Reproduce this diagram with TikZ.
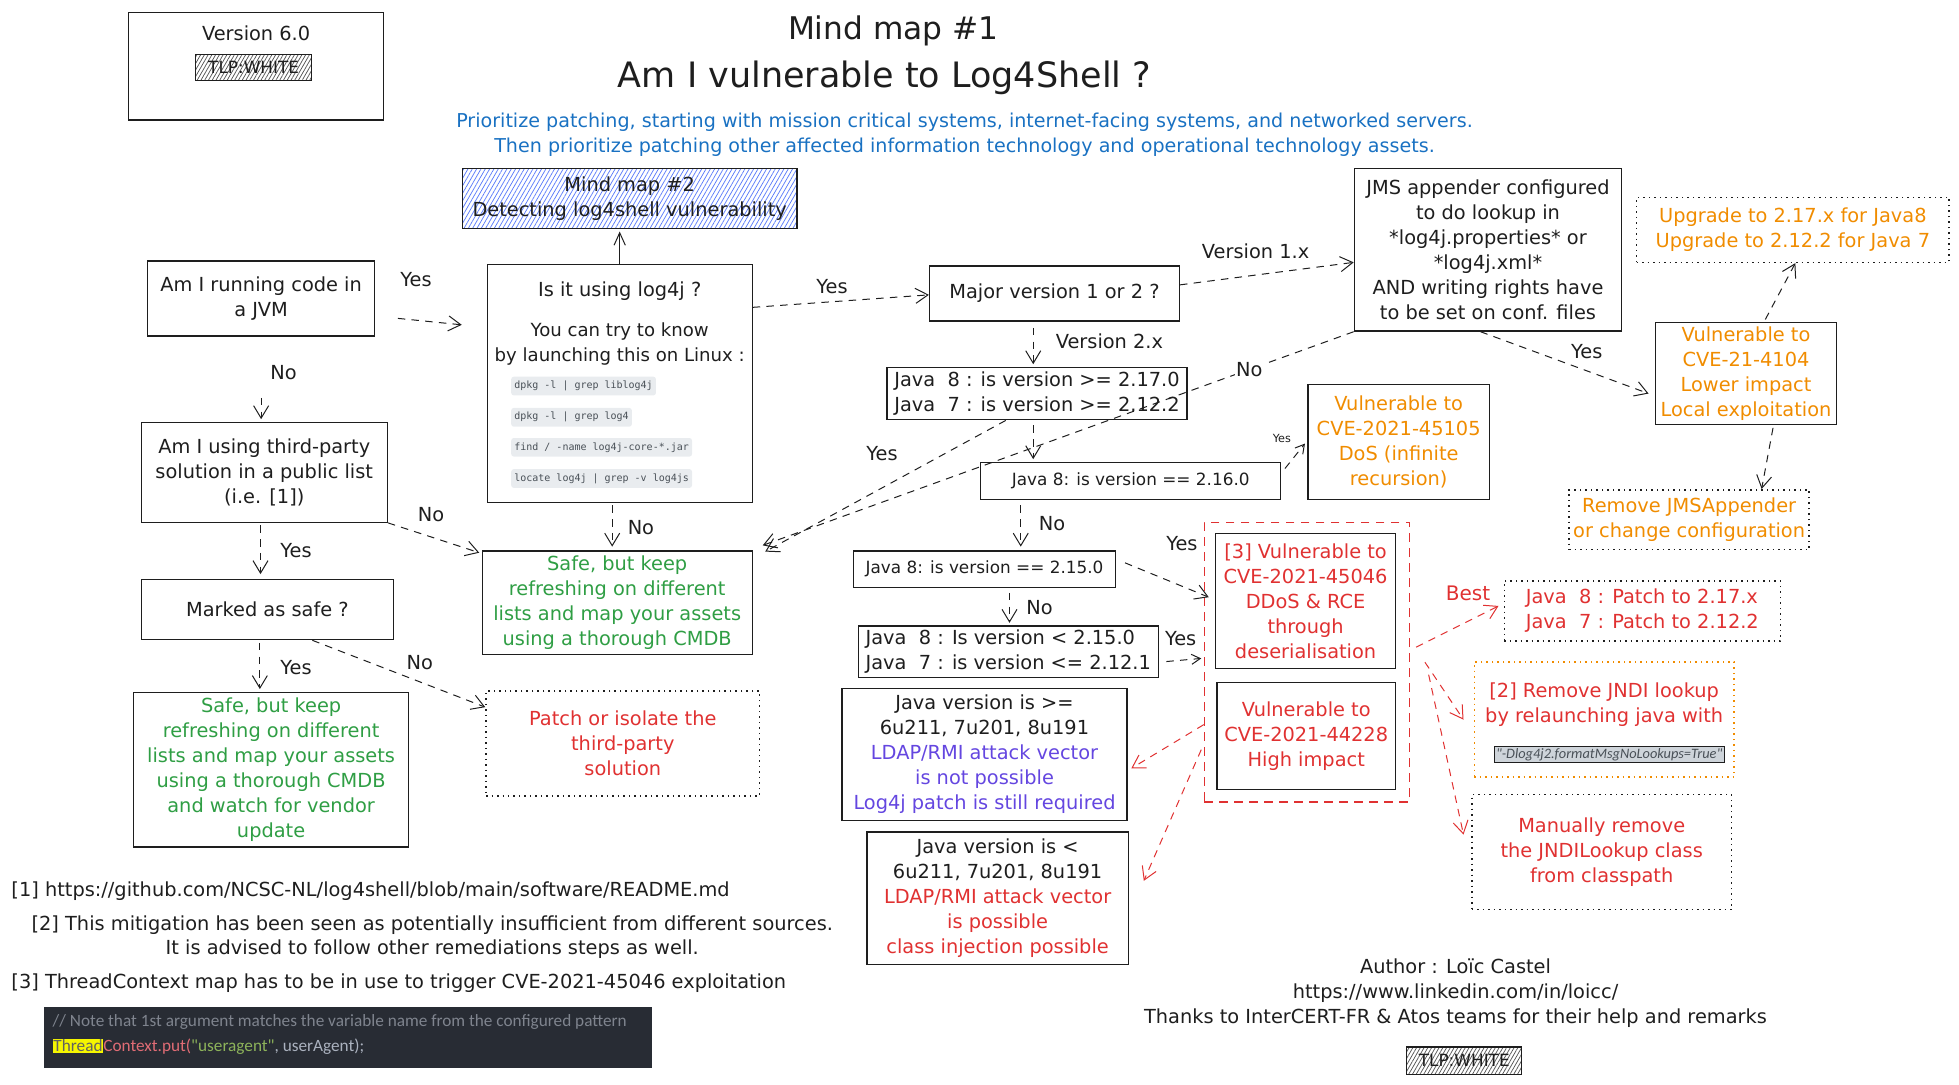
\documentclass[tikz,border=0pt]{standalone}
\usepackage{fontspec}
\setmainfont{DejaVu Sans}
\newfontfamily\monofont{DejaVu Sans Mono}
\newfontfamily\narrowfont{Carlito}
\usetikzlibrary{arrows.meta,positioning,patterns.meta,calc}
\definecolor{Ink}{HTML}{1E1E1E}
\definecolor{Grn}{HTML}{2F9E44}
\definecolor{Rd}{HTML}{E03131}
\definecolor{Org}{HTML}{F08C00}
\definecolor{Blu}{HTML}{1971C2}
\definecolor{Pur}{HTML}{6446E0}
\definecolor{Hatch}{HTML}{5C7CFA}
\definecolor{Chip}{HTML}{E9ECEF}
\definecolor{ChipTxt}{HTML}{495057}
\definecolor{Flag}{HTML}{CED4DA}
\definecolor{CodeBg}{HTML}{282C34}
\definecolor{CodeDim}{HTML}{7F848E}
\definecolor{CodeRed}{HTML}{E06C75}
\definecolor{CodeGrn}{HTML}{8DB35A}
\definecolor{CodeTxt}{HTML}{ABB2BF}
\definecolor{Hilite}{HTML}{F5F500}
\newcommand{\boxfont}{\fontsize{15.5}{20}\selectfont}
\newcommand{\smallfont}{\fontsize{13.5}{16}\selectfont}
\tikzset{
  box/.style={draw=Ink, line width=1pt, align=center, inner sep=2pt,
              font=\boxfont, text=Ink},
  dotbox/.style={box, dash pattern=on 1.2pt off 3.2pt, line width=1.2pt},
  hatch/.style={box, pattern={Lines[angle=60,distance=2.6pt,line width=0.6pt]},
                pattern color=Ink!75, inner sep=0pt, font=\fontsize{13.5}{15}\selectfont},
  flow/.style={draw=Ink, line width=0.8pt, dash pattern=on 6pt off 5pt,
               -{Straight Barb[length=10pt,width=12pt]}},
  redflow/.style={flow, draw=Rd},
  solidflow/.style={draw=Ink, line width=0.8pt, -{Straight Barb[length=10pt,width=9pt]}},
  lbl/.style={font=\boxfont, text=Ink, inner sep=1pt},
  chip/.style={fill=Chip, rounded corners=2pt, inner xsep=2.5pt, inner ysep=3.5pt, anchor=west,
               font=\monofont\fontsize{8}{9}\selectfont, text=ChipTxt},
}
\begin{document}
\begin{tikzpicture}[x=1pt, y=-1pt]
  \useasboundingbox (0,0) rectangle (1568,868);

  % header
  \node[box, minimum width=204, minimum height=86] (ver) at (205,53) {};
  \node[lbl] (vertxt) at (205,27) {Version 6.0};
  \node[hatch, minimum width=93, minimum height=21] (tlpa) at (203,54) {TLP:WHITE};
  \node[font=\fontsize{25}{30}\selectfont, text=Ink] (titlea) at (715,25) {Mind map \#1};
  \node[font=\fontsize{28}{34}\selectfont, text=Ink] (titleb) at (708,62) {Am I vulnerable to Log4Shell ?};
  \node[font=\fontsize{15.3}{20}\selectfont, align=center, text=Blu] (sub) at (772,108)
    {Prioritize patching, starting with mission critical systems, internet-facing systems, and networked servers.\\
     Then prioritize patching other affected information technology and operational technology assets.};
  \node[box, pattern={Lines[angle=60,distance=3pt,line width=0.6pt]}, pattern color=Hatch,
        minimum width=268, minimum height=48] (mm2) at (504,159)
    {Mind map \#2\\Detecting log4shell vulnerability};

  % left column
  \node[box, minimum width=182, minimum height=60] (jvm) at (209,239) {Am I running code in\\a JVM};
  \node[box, minimum width=197, minimum height=80] (tp) at (211.5,378)
    {Am I using third-party\\solution in a public list\\(i.e. [1])};
  \node[box, minimum width=202, minimum height=48] (marked) at (214,488) {Marked as safe ?};
  \node[box, text=Grn, minimum width=220, minimum height=124] (safe2) at (217,616)
    {Safe, but keep\\refreshing on different\\lists and map your assets\\using a thorough CMDB\\and watch for vendor\\update};
  \node[dotbox, text=Rd, minimum width=219, minimum height=84] (patch) at (498.5,595)
    {Patch or isolate the\\third-party\\solution};

  % log4j check
  \node[box, minimum width=212, minimum height=190] (uselog) at (496,307) {};
  \node[lbl] (uselogq) at (496,233) {Is it using log4j ?};
  \node[lbl, align=center, font=\fontsize{14.5}{20}\selectfont] (uselogtry) at (496,275)
    {You can try to know\\by launching this on Linux :};
  \node[chip] (cmda) at (409,309) {dpkg -l | grep liblog4j};
  \node[chip] (cmdb) at (409,334) {dpkg -l | grep log4};
  \node[chip] (cmdc) at (409,358) {find / -name log4j-core-*.jar};
  \node[chip] (cmdd) at (409,383) {locate log4j | grep -v log4js};
  \node[box, text=Grn, minimum width=216, minimum height=83] (safe1) at (494,482.5)
    {Safe, but keep\\refreshing on different\\lists and map your assets\\using a thorough CMDB};

  % version checks
  \node[box, minimum width=200, minimum height=44] (major) at (844,235) {Major version 1 or 2 ?};
  \node[box, minimum width=214, minimum height=130] (jms) at (1191,200)
    {JMS appender configured\\to do lookup in\\*log4j.properties* or\\*log4j.xml*\\AND writing rights have\\to be set on conf. files};
  \node[box, align=left, minimum width=240, minimum height=42] (j217) at (830,315)
    {Java\ \ 8 : is version >= 2.17.0\\Java\ \ 7 : is version >= 2.12.2};
  \node[box, font=\smallfont, minimum width=240, minimum height=30] (j216) at (905,385)
    {Java 8: is version == 2.16.0};
  \node[box, text=Org, minimum width=145, minimum height=92] (cve105) at (1119.5,354)
    {Vulnerable to\\CVE-2021-45105\\DoS (infinite\\recursion)};
  \node[box, font=\smallfont, minimum width=210, minimum height=29] (j215) at (788,455.5)
    {Java 8: is version == 2.15.0};
  \node[box, align=left, minimum width=240, minimum height=41] (jlt) at (807,521.5)
    {Java\ \ 8 : Is version < 2.15.0\\Java\ \ 7 : is version <= 2.12.1};

  % red group
  \node[draw=Rd, line width=1pt, dash pattern=on 7pt off 5pt, minimum width=164,
        minimum height=224] (grp) at (1046,530) {};
  \node[box, text=Rd, minimum width=144, minimum height=108] (cve046) at (1045,481)
    {[3] Vulnerable to\\CVE-2021-45046\\DDoS \& RCE\\through\\deserialisation};
  \node[box, text=Rd, minimum width=143, minimum height=86] (cve228) at (1045.5,589)
    {Vulnerable to\\CVE-2021-44228\\High impact};
  \node[box, minimum width=228, minimum height=106] (jge) at (788,604)
    {Java version is >=\\6u211, 7u201, 8u191\\\textcolor{Pur}{LDAP/RMI attack vector}\\
     \textcolor{Pur}{is not possible}\\\textcolor{Pur}{Log4j patch is still required}};
  \node[box, minimum width=209, minimum height=106] (jlt2) at (798.5,719)
    {Java version is <\\6u211, 7u201, 8u191\\\textcolor{Rd}{LDAP/RMI attack vector}\\
     \textcolor{Rd}{is possible}\\\textcolor{Rd}{class injection possible}};

  % remediations
  \node[dotbox, text=Rd, align=left, minimum width=221, minimum height=48] (patchj) at (1314.5,489)
    {Java\ \ 8 : Patch to 2.17.x\\Java\ \ 7 : Patch to 2.12.2};
  \node[dotbox, draw=Org, minimum width=208, minimum height=92] (jndi) at (1284,576) {};
  \node[lbl, text=Rd, align=center] (jnditxt) at (1284,564) {[2] Remove JNDI lookup\\by relaunching java with};
  \node[draw=Ink, fill=Flag, line width=0.6pt, inner sep=1.5pt,
        font=\narrowfont\itshape\fontsize{11.5}{12}\selectfont, text=ChipTxt] (jflag) at (1288,604)
    {"-Dlog4j2.formatMsgNoLookups=True"};
  \node[dotbox, text=Rd, minimum width=208, minimum height=92] (manual) at (1282,682)
    {Manually remove\\the JNDILookup class\\from classpath};
  \node[dotbox, text=Org, minimum width=250, minimum height=52] (upgrade) at (1435,184)
    {Upgrade to 2.17.x for Java8\\Upgrade to 2.12.2 for Java 7};
  \node[box, text=Org, minimum width=145, minimum height=82] (cve4104) at (1397.5,299)
    {Vulnerable to\\CVE-21-4104\\Lower impact\\Local exploitation};
  \node[dotbox, text=Org, minimum width=192, minimum height=48] (rmjms) at (1352,416)
    {Remove JMSAppender\\or change configuration};

  % connectors
  \draw[solidflow, shorten >=2pt] (uselog.north) -- (uselog.north |- mm2.south);
  \draw[flow, shorten <=18pt, shorten >=20pt] ([yshift=-14pt]jvm.east) -- ([yshift=45pt]uselog.west);
  \draw[flow, shorten <=49pt, shorten >=2pt] (jvm.south) -- (jvm.south |- tp.north);
  \draw[flow, shorten <=2pt, shorten >=4pt] ([xshift=-3pt]tp.south) -- ([xshift=-3pt]tp.south |- marked.north);
  \draw[flow, shorten >=2pt] (tp.south east) -- ([yshift=39.5pt]safe1.west);
  \draw[flow, shorten <=2pt, shorten >=2pt] ([xshift=-6pt]marked.south) -- ([xshift=-6pt]marked.south |- safe2.north);
  \draw[flow] ([xshift=36pt]marked.south) -- ([yshift=29pt]patch.west);
  \draw[flow, shorten <=2pt, shorten >=3pt] ([xshift=-6pt]uselog.south) -- ([xshift=-6pt]uselog.south |- safe1.north);
  \draw[flow] ([yshift=61pt]uselog.east) -- ([yshift=-1pt]major.west);
  \draw[flow] ([yshift=7pt]major.east) -- ([yshift=-10pt]jms.west);
  \draw[flow, shorten <=5pt, shorten >=2pt] ([xshift=-17pt]major.south) -- ([xshift=-17pt]major.south |- j217.north);
  \draw[flow] (jms.south west) -- ([xshift=8pt,yshift=4pt]safe1.north east);
  \draw[flow] ([xshift=-25pt]j217.south) -- ([xshift=10pt,yshift=-1pt]safe1.north east);
  \draw[flow, shorten <=4pt, shorten >=2pt] ([xshift=-3pt]j217.south) -- ([xshift=-3pt]j217.south |- j216.north);
  \draw[flow, -{Straight Barb[length=7pt,width=8pt]}] ([xshift=3pt,yshift=10pt]j216.east) -- ([xshift=-2pt,yshift=-1pt]cve105.west);
  \draw[flow, shorten <=4pt, shorten >=3pt] ([xshift=-88pt]j216.south) -- ([xshift=-88pt]j216.south |- j215.north);
  \draw[flow] ([xshift=7pt,yshift=5pt]j215.east) -- ([xshift=4pt,yshift=52pt]grp.west);
  \draw[flow, shorten <=4pt, shorten >=2pt] ([xshift=20pt]j215.south) -- ([xshift=20pt]j215.south |- jlt.north);
  \draw[flow, -{Straight Barb[length=7pt,width=8pt]}] ([xshift=6pt,yshift=-8pt]jlt.east) -- ([xshift=-2pt,yshift=3pt]grp.west);
  \draw[redflow] ([yshift=-50pt]grp.west) -- ([xshift=3pt,yshift=-11pt]jge.east);
  \draw[redflow] ([xshift=-2pt,yshift=-70pt]grp.west) -- ([xshift=12pt,yshift=14pt]jlt2.east);
  \draw[redflow] ([xshift=5pt,yshift=12pt]grp.east) -- ([xshift=-4pt,yshift=4pt]patchj.west);
  \draw[redflow] ([xshift=12pt]grp.east) -- ([xshift=-8pt]jndi.west);
  \draw[redflow] ([xshift=15pt,yshift=-10pt]grp.east) -- ([xshift=-6pt,yshift=14pt]manual.west);
  \draw[flow] ([xshift=-6pt]jms.south) -- ([xshift=-5pt,yshift=-16pt]cve4104.west);
  \draw[flow, shorten <=2pt] ([xshift=14.5pt]cve4104.north) -- ([xshift=2pt]upgrade.south);
  \draw[flow, shorten <=2pt] ([xshift=22pt]cve4104.south) -- ([xshift=58pt]rmjms.north);

  % connector labels
  \node[lbl] (yesa) at (333,224) {Yes};
  \node[lbl] (noa) at (227,298) {No};
  \node[lbl] (nob) at (345,412) {No};
  \node[lbl] (yesb) at (237,441) {Yes};
  \node[lbl] (yesc) at (237,534) {Yes};
  \node[lbl] (noc) at (336,530) {No};
  \node[lbl] (nod) at (513,422) {No};
  \node[lbl] (yesd) at (666,229) {Yes};
  \node[lbl] (vone) at (1005,201) {Version 1.x};
  \node[lbl] (vtwo) at (888,273) {Version 2.x};
  \node[lbl, fill=white] (noe) at (1000,296) {No};
  \node[lbl] (yese) at (706,363) {Yes};
  \node[lbl, font=\fontsize{9}{10}\selectfont] (yesf) at (1026,351) {Yes};
  \node[lbl] (nof) at (842,419) {No};
  \node[lbl] (yesg) at (946,435) {Yes};
  \node[lbl] (nog) at (832,486) {No};
  \node[lbl] (yesh) at (945,511) {Yes};
  \node[lbl, text=Rd, font=\fontsize{16}{18}\selectfont] (best) at (1175,475) {Best};
  \node[lbl] (yesi) at (1270,281) {Yes};

  % footnotes
  \node[lbl, anchor=west] (fna) at (8,713) {[1] https://github.com/NCSC-NL/log4shell/blob/main/software/README.md};
  \node[lbl, align=center, font=\fontsize{15.5}{19}\selectfont] (fnb) at (346,750)
    {[2] This mitigation has been seen as potentially insufficient from different sources.\\
     It is advised to follow other remediations steps as well.};
  \node[lbl, anchor=west] (fnc) at (8,787) {[3] ThreadContext map has to be in use to trigger CVE-2021-45046 exploitation};
  \node[fill=CodeBg, anchor=north west, minimum width=487, minimum height=49] (code) at (35,806) {};
  \node[anchor=west, inner sep=0pt, font=\narrowfont\fontsize{13.8}{16}\selectfont, text=CodeDim] (codea) at (42,818)
    {// Note that 1st argument matches the variable name from the configured pattern};
  \node[anchor=west, inner sep=0pt, font=\narrowfont\fontsize{13.8}{16}\selectfont] (codeb) at (42,838)
    {\fboxsep=0.6pt\colorbox{Hilite}{\textcolor{Ink!70}{Thread}}\textcolor{CodeRed}{Context.put(}\textcolor{CodeGrn}{"useragent"}\textcolor{CodeTxt}{, userAgent);}};

  % author
  \node[lbl, align=center] (author) at (1165,795)
    {Author : Loïc Castel\\https://www.linkedin.com/in/loicc/\\Thanks to InterCERT-FR \& Atos teams for their help and remarks};
  \node[hatch, minimum width=92, minimum height=22] (tlpb) at (1172,849) {TLP:WHITE};
\end{tikzpicture}
\end{document}
